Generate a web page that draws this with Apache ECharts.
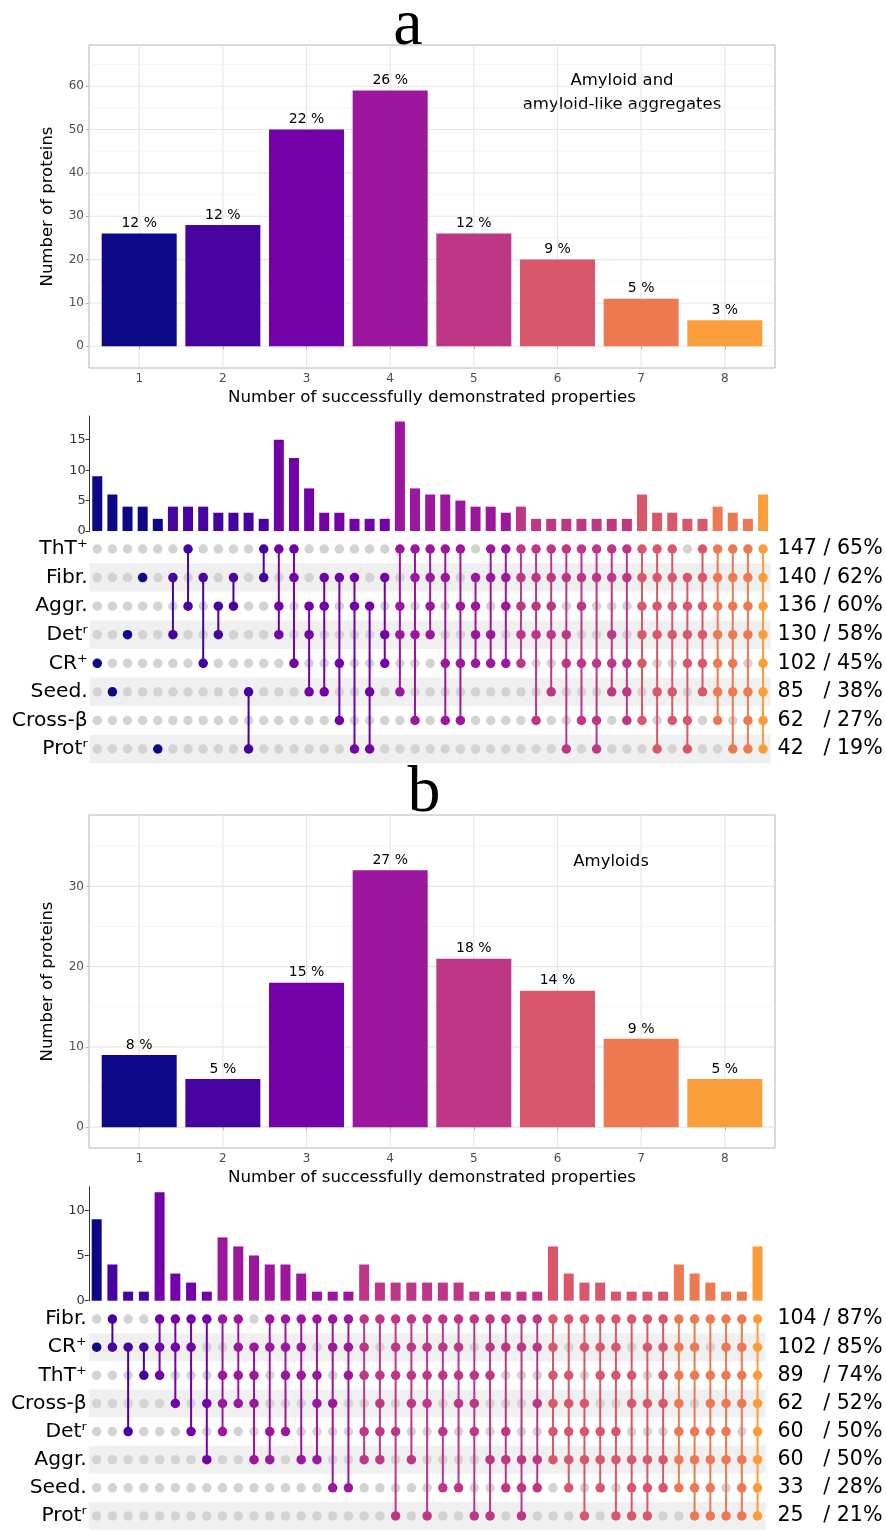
<!DOCTYPE html>
<html>
<head>
<meta charset="utf-8">
<script src="https://cdn.jsdelivr.net/npm/echarts@6/dist/echarts.min.js"></script>
<style>
  html, body { margin: 0; padding: 0; background: #fff; }
  #chart { width: 886px; height: 1530px; }
</style>
</head>
<body>
<div id="chart"></div>
<script>
// plasma(10)[1:8], one colour per number of properties
var degreeColors = ['#0D0887', '#47039F', '#7301A8', '#9C179E', '#BD3786', '#D8576B', '#ED7953', '#FA9E3B'];

// ---------- panel a ----------
var propCounts = [1, 2, 3, 4, 5, 6, 7, 8];
var histA = [26, 28, 50, 59, 26, 20, 11, 6];
var pctA = [12, 12, 22, 26, 12, 9, 5, 3];
var yBreaksA = [0, 10, 20, 30, 40, 50, 60];
var yMinorA = [5, 15, 25, 35, 45, 55, 65];

// set rows, top to bottom (codes: T ThT, F Fibr, A Aggr, D Det, C CR, S Seed, X Cross-b, P Prot)
var rowCodesA = ['T', 'F', 'A', 'D', 'C', 'S', 'X', 'P'];
var rowLabelsA = ['ThT⁺', 'Fibr.', 'Aggr.', 'Detʳ', 'CR⁺', 'Seed.', 'Cross-β', 'Protʳ'];
var setSizeA = [147, 140, 136, 130, 102, 85, 62, 42];
var setPctA = [65, 62, 60, 58, 45, 38, 27, 19];
// intersections (left to right)
var interA = [9, 6, 4, 4, 2, 4, 4, 4, 3, 3, 3, 2, 15, 12, 7, 3, 3, 2, 2, 2, 18, 7, 6, 6, 5, 4, 4, 3,
              4, 2, 2, 2, 2, 2, 2, 2, 6, 3, 3, 2, 2, 4, 3, 2, 6];
var membersA = ['C', 'S', 'D', 'F', 'P', 'FD', 'TA', 'FC', 'AD', 'FA', 'SP', 'TF',
                'TAD', 'TFC', 'ADS', 'FAS', 'FCX', 'FAP', 'ASP', 'FDC',
                'TADS', 'TFDX', 'TFAD', 'TFCX', 'TACX', 'FADC', 'TFDC', 'TFAC',
                'TFADC', 'TFADX', 'TFADS', 'TFDCP', 'TFACX', 'TFCXP', 'TFDCS', 'TFCSX',
                'TFADCX', 'TFADSP', 'TFADSX', 'FADCXP', 'TFADCS',
                'TFADCSX', 'TFADCSP', 'TFADSXP', 'TFADCSXP'];
var interTicksA = [0, 5, 10, 15];

// ---------- panel b ----------
var histB = [9, 6, 18, 32, 21, 17, 11, 6];
var pctB = [8, 5, 15, 27, 18, 14, 9, 5];
var yBreaksB = [0, 10, 20, 30];
var yMinorB = [5, 15, 25, 35];

var rowCodesB = ['F', 'C', 'T', 'X', 'D', 'A', 'S', 'P'];
var rowLabelsB = ['Fibr.', 'CR⁺', 'ThT⁺', 'Cross-β', 'Detʳ', 'Aggr.', 'Seed.', 'Protʳ'];
var setSizeB = [104, 102, 89, 62, 60, 60, 33, 25];
var setPctB = [87, 85, 74, 52, 50, 50, 28, 21];
var interB = [9, 4, 1, 1, 12, 3, 2, 1, 7, 6, 5, 4, 4, 3, 1, 1, 1, 4, 2, 2, 2, 2, 2, 2, 1, 1, 1, 1, 1,
              6, 3, 2, 2, 1, 1, 1, 1, 4, 3, 2, 1, 1, 6];
var membersB = ['C', 'FC', 'CD', 'CT', 'FCT', 'FCX', 'FCD', 'FXA',
                'FTXD', 'FCTX', 'CTXA', 'FCDA', 'FCTD', 'FCTA', 'FTXA', 'FCXS', 'FCTS',
                'FCTDA', 'FTXDA', 'FCTDP', 'FCTXA', 'FCTXP', 'FCTDS', 'FCTXS', 'FTXDP',
                'FCTAP', 'FCDAS', 'FCASP', 'FCXAS',
                'FCTXDA', 'FTXDAS', 'FCXDAP', 'FCTDAS', 'FCTDAP', 'FTXASP', 'FCXASP', 'FCTXAS',
                'FCTXDAS', 'FCTDASP', 'FTXDASP', 'FCTXDAP', 'FCTXASP', 'FCTXDASP'];
var interTicksB = [0, 5, 10];

var SANS = 'DejaVu Sans';
var chart = echarts.init(document.getElementById('chart'));

// "147 / 65%", two-digit sizes padded so the slashes line up
function sizeLabel(n, p) {
  return (n < 100 ? n + '   ' : n + ' ') + '/ ' + p + '%';
}

// ggplot-like grid lines drawn behind the bars
function hLines(xi, yi, values, color, width) {
  return {
    type: 'custom', xAxisIndex: xi, yAxisIndex: yi, silent: true, z: 0,
    data: values.map(function (v) { return [1, v]; }),
    renderItem: function (params, api) {
      var cs = params.coordSys;
      var y = api.coord([1, api.value(1)])[1];
      return { type: 'line', shape: { x1: cs.x, y1: y, x2: cs.x + cs.width, y2: y },
               style: { stroke: color, lineWidth: width } };
    }
  };
}
function vLines(xi, yi, values, color, width) {
  return {
    type: 'custom', xAxisIndex: xi, yAxisIndex: yi, silent: true, z: 0,
    data: values.map(function (v) { return [v, 0]; }),
    renderItem: function (params, api) {
      var cs = params.coordSys;
      var x = api.coord([api.value(0), 0])[0];
      return { type: 'line', shape: { x1: x, y1: cs.y, x2: x, y2: cs.y + cs.height },
               style: { stroke: color, lineWidth: width } };
    }
  };
}

function histSeries(xi, yi, values, pct) {
  return {
    type: 'bar', xAxisIndex: xi, yAxisIndex: yi, barWidth: 75, z: 2,
    data: values.map(function (v, i) {
      return { value: [propCounts[i], v], itemStyle: { color: degreeColors[i] } };
    }),
    label: {
      show: true, position: 'top', distance: 3, fontFamily: SANS, fontSize: 14, color: '#000',
      formatter: function (p) { return pct[p.dataIndex] + ' %'; }
    }
  };
}

function interSeries(xi, yi, counts, members) {
  return {
    type: 'bar', xAxisIndex: xi, yAxisIndex: yi, barWidth: 10,
    data: counts.map(function (v, i) {
      return { value: v, itemStyle: { color: degreeColors[members[i].length - 1] } };
    })
  };
}

function matrixSeries(xi, yi, members, rowCodes) {
  var grey = [], dots = [], links = [];
  members.forEach(function (m, c) {
    var col = degreeColors[m.length - 1];
    var rows = [];
    rowCodes.forEach(function (code, r) {
      if (m.indexOf(code) >= 0) {
        rows.push(r);
        dots.push({ value: [c, r], itemStyle: { color: col } });
      } else {
        grey.push([c, r]);
      }
    });
    if (rows.length > 1) {
      links.push({ value: [c, Math.min.apply(null, rows), Math.max.apply(null, rows)], itemStyle: { color: col } });
    }
  });
  return [
    { type: 'scatter', xAxisIndex: xi, yAxisIndex: yi, symbolSize: 9.5, silent: true,
      itemStyle: { color: '#d3d3d3', opacity: 1 }, data: grey, z: 2 },
    { type: 'custom', xAxisIndex: xi, yAxisIndex: yi, silent: true, z: 3,
      encode: { x: 0, y: [1, 2] }, data: links,
      renderItem: function (params, api) {
        var a = api.coord([api.value(0), api.value(1)]);
        var b = api.coord([api.value(0), api.value(2)]);
        return { type: 'line', shape: { x1: a[0], y1: a[1], x2: b[0], y2: b[1] },
                 style: { stroke: api.visual('color'), lineWidth: 2 } };
      } },
    { type: 'scatter', xAxisIndex: xi, yAxisIndex: yi, symbolSize: 9.5, silent: true,
      itemStyle: { opacity: 1 }, data: dots, z: 4 }
  ];
}

function histX(gi) {
  return {
    type: 'value', gridIndex: gi, min: 0.4, max: 8.6,
    axisLine: { show: false }, splitLine: { show: false },
    axisTick: { customValues: propCounts, length: 3, lineStyle: { color: '#b3b3b3' } },
    axisLabel: { customValues: propCounts, color: '#4d4d4d', fontFamily: SANS, fontSize: 12, margin: 5 },
    name: 'Number of successfully demonstrated properties', nameLocation: 'middle', nameGap: 21,
    nameTextStyle: { fontFamily: SANS, fontSize: 16.7, color: '#000' }
  };
}
function histY(gi, min, max, breaks) {
  return {
    type: 'value', gridIndex: gi, min: min, max: max,
    axisLine: { show: false }, splitLine: { show: false },
    axisTick: { show: true, customValues: breaks, length: 3, lineStyle: { color: '#b3b3b3' } },
    axisLabel: { customValues: breaks, color: '#4d4d4d', fontFamily: SANS, fontSize: 12, margin: 5 },
    name: 'Number of proteins', nameLocation: 'middle', nameGap: 33, nameRotate: 90,
    nameTextStyle: { fontFamily: SANS, fontSize: 16.5, color: '#000' }
  };
}
function hiddenCat(gi, n) {
  var cats = [];
  for (var i = 0; i < n; i++) cats.push(String(i + 1));
  return { type: 'category', gridIndex: gi, data: cats, show: false };
}
function interY(gi, max, ticks) {
  return {
    type: 'value', gridIndex: gi, min: 0, max: max,
    axisLine: { show: true, lineStyle: { color: '#333', width: 1 } },
    axisTick: { show: true, customValues: ticks, length: 4, lineStyle: { color: '#333' } },
    axisLabel: { customValues: ticks, color: '#333', fontFamily: SANS, fontSize: 13, margin: 4 },
    splitLine: { show: false }
  };
}
function matrixYLeft(gi, labels) {
  return {
    type: 'category', gridIndex: gi, data: labels, inverse: true, position: 'left',
    axisLine: { show: false }, axisTick: { show: false },
    axisLabel: { color: '#000', fontFamily: SANS, fontSize: 20.3, margin: 2 },
    splitArea: { show: true, areaStyle: { color: ['#ffffff', '#f0f0f0'] } },
    splitLine: { show: false }
  };
}
function matrixYRight(gi, sizes, pcts, margin) {
  return {
    type: 'category', gridIndex: gi, inverse: true, position: 'right',
    data: sizes.map(function (s, i) { return sizeLabel(s, pcts[i]); }),
    axisLine: { show: false }, axisTick: { show: false },
    axisLabel: { color: '#000', fontFamily: SANS, fontSize: 20.6, margin: margin, align: 'left' },
    splitLine: { show: false }
  };
}

var option = {
  animation: false,
  backgroundColor: '#ffffff',
  grid: [
    { left: 89, top: 45, width: 686, height: 323, show: true, borderColor: '#b3b3b3', borderWidth: 1, backgroundColor: '#fff' },
    { left: 89.7, top: 416, width: 680.9, height: 115 },
    { left: 89.7, top: 534.7, width: 680.9, height: 228.6 },
    { left: 89, top: 815, width: 686, height: 333, show: true, borderColor: '#b3b3b3', borderWidth: 1, backgroundColor: '#fff' },
    { left: 88.8, top: 1186.7, width: 676.6, height: 114 },
    { left: 88.8, top: 1305, width: 676.6, height: 228.6 }
  ],
  xAxis: [
    histX(0),
    hiddenCat(1, interA.length),
    hiddenCat(2, interA.length),
    histX(3),
    hiddenCat(4, interB.length),
    hiddenCat(5, interB.length)
  ],
  yAxis: [
    histY(0, -5, 69.5, yBreaksA),          // 0
    interY(1, 18.9, interTicksA),          // 1
    matrixYLeft(2, rowLabelsA),            // 2
    matrixYRight(2, setSizeA, setPctA, 7), // 3
    histY(3, -2.6, 38.9, yBreaksB),        // 4
    interY(4, 12.6, interTicksB),          // 5
    matrixYLeft(5, rowLabelsB),            // 6
    matrixYRight(5, setSizeB, setPctB, 12) // 7
  ],
  graphic: [
    { type: 'text', x: 408, y: 27, style: { text: 'a', font: '66px "Liberation Serif"', fill: '#000', textAlign: 'center', textVerticalAlign: 'middle' } },
    { type: 'text', x: 424, y: 794, style: { text: 'b', font: '66px "Liberation Serif"', fill: '#000', textAlign: 'center', textVerticalAlign: 'middle' } },
    { type: 'text', x: 622, y: 93, style: { text: 'Amyloid and\namyloid-like aggregates', font: '16.5px "DejaVu Sans"', lineHeight: 24, fill: '#000', textAlign: 'center', textVerticalAlign: 'middle' } },
    { type: 'text', x: 611, y: 862, style: { text: 'Amyloids', font: '16.5px "DejaVu Sans"', fill: '#000', textAlign: 'center', textVerticalAlign: 'middle' } }
  ],
  series: [].concat(
    [hLines(0, 0, yMinorA, '#f0f0f0', 0.6), hLines(0, 0, yBreaksA, '#e6e6e6', 1.1), vLines(0, 0, propCounts, '#e6e6e6', 1.1),
     histSeries(0, 0, histA, pctA),
     interSeries(1, 1, interA, membersA)],
    matrixSeries(2, 2, membersA, rowCodesA),
    [hLines(3, 4, yMinorB, '#f0f0f0', 0.6), hLines(3, 4, yBreaksB, '#e6e6e6', 1.1), vLines(3, 4, propCounts, '#e6e6e6', 1.1),
     histSeries(3, 4, histB, pctB),
     interSeries(4, 5, interB, membersB)],
    matrixSeries(5, 6, membersB, rowCodesB)
  )
};
chart.setOption(option);
</script>
</body>
</html>
